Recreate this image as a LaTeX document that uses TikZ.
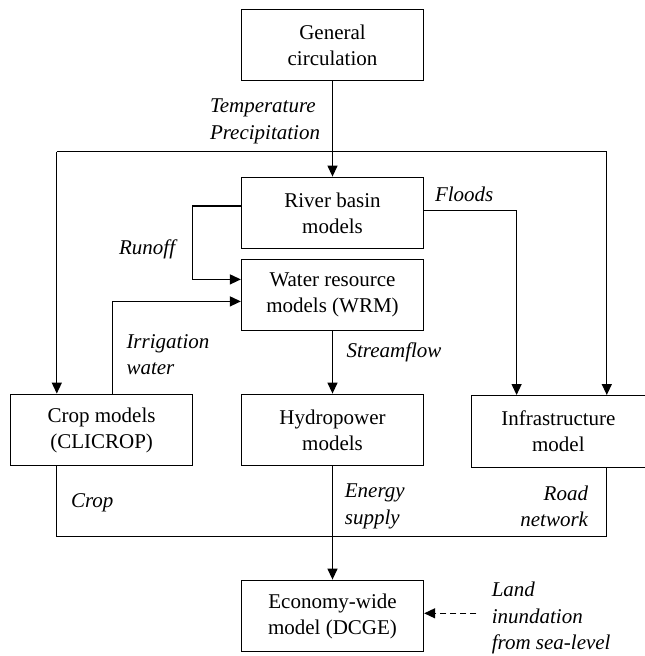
\documentclass[tikz,border=0pt]{standalone}
\usepackage{fontspec}
\setmainfont{Liberation Serif}
\usetikzlibrary{arrows.meta}
\begin{document}
\begin{tikzpicture}[x=1pt,y=-1pt,
  every node/.style={font=\rmfamily\fontsize{21}{26}\selectfont},
  box/.style={draw,line width=1.3pt,minimum width=182pt,minimum height=71.5pt,align=center,inner sep=0pt},
  lab/.style={font=\rmfamily\fontsize{21}{26.5}\selectfont\itshape,inner sep=0pt},
  conn/.style={line width=1.3pt},
  arr/.style={conn,-{Triangle[length=11pt,width=10pt]}}]
\useasboundingbox (0,0) rectangle (645,656);
\node[box] (gc) at (332.5,45) {General\\circulation};
\node[box] (rb) at (332.5,213) {River basin\\models};
\node[box] (wrm) at (332.5,295) {Water resource\\models (WRM)};
\node[box] (crop) at (101.6,430) {Crop models\\(CLICROP)};
\node[box] (hydro) at (332.5,430) {Hydropower\\models};
\node[box,minimum width=174.2pt] (infra) at (558.9,431.4) {};
\node at (558.4,431.4) (infratext) [align=center,inner sep=0pt] {Infrastructure\\model};
\node[box] (dcge) at (332.5,616) {Economy-wide\\model (DCGE)};
% coordinates
\coordinate (tl) at (56.8,151.7);
\coordinate (tr) at (606.8,151.7);
\coordinate (bl) at (56.8,536.7);
\coordinate (br) at (606.8,536.7);
\coordinate (irx) at (112.3,0);
\coordinate (flx) at (516.6,0);
\coordinate (land) at (476.3,613.3);
% connectors
\draw[arr] (gc) -- (rb);
\draw[conn] (tl) -- (tr);
\draw[arr] (tl) -- (tl |- crop.north);
\draw[arr] (tr) -- (tr |- infra.north);
\draw[arr] ([yshift=6.9pt]rb.west) -- ++(-48.5,0) |- ([yshift=15.6pt]wrm.west);
\draw[arr] (irx |- crop.north) |- ([yshift=-6.4pt]wrm.west);
\draw[arr] ([yshift=2.6pt]rb.east) -| (flx |- infra.north);
\draw[arr] (wrm) -- (hydro);
\draw[arr] (hydro) -- (dcge);
\draw[conn] (tl |- crop.south) -- (bl) -- (br) -- (tr |- infra.south);
\draw[arr,dash pattern=on 6pt off 4pt] (land) -- (land -| dcge.east);
% labels
\node[lab,anchor=west,align=left] (ltp) at (209.8,121.5) {Temperature\\Precipitation};
\node[lab,anchor=west] (lfl) at (434.8,194) {Floods};
\node[lab,anchor=west] (lro) at (118.9,249) {Runoff};
\node[lab,anchor=west,align=left] (lir) at (126.3,354.8) {Irrigation\\water};
\node[lab,anchor=west] (lsf) at (346.4,352) {Streamflow};
\node[lab,anchor=west] (lcr) at (70.8,502.7) {Crop};
\node[lab,anchor=west,align=left] (les) at (344.7,506.3) {Energy\\supply};
\node[lab,anchor=east,align=right] (lrn) at (588.2,506.3) {Road\\network};
\node[lab,anchor=west,align=left] (lli) at (491.6,618.3) {Land\\inundation\\from sea-level};
\end{tikzpicture}
\end{document}
